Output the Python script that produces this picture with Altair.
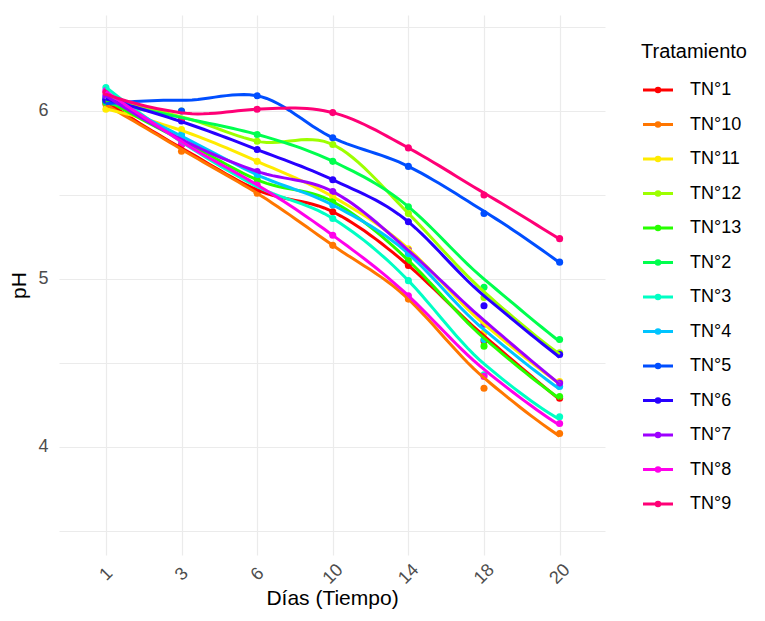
import altair as alt
import numpy as np
import pandas as pd

days = ["1", "3", "6", "10", "14", "18", "20"]
treatments = ["TN°1", "TN°10", "TN°11", "TN°12", "TN°13", "TN°2", "TN°3",
              "TN°4", "TN°5", "TN°6", "TN°7", "TN°8", "TN°9"]
colors = ["#FF0000", "#FF7600", "#FFEB00", "#9DFF00", "#27FF00", "#00FF4E", "#00FFC4",
          "#00C4FF", "#004EFF", "#2700FF", "#9D00FF", "#FF00EB", "#FF0076"]

ph_tn1 = [6.05, 5.80, 5.53, 5.40, 5.08, 4.63, 4.29]
ph_tn10 = [6.04, 5.76, 5.51, 5.20, 4.88, 4.35, 4.08]
ph_tn11 = [6.01, 5.89, 5.70, 5.49, 5.18, 4.68, 4.39]
ph_tn12 = [6.07, 6.00, 5.82, 5.80, 5.39, 4.89, 4.56]
ph_tn13 = [6.06, 5.85, 5.59, 5.46, 5.11, 4.60, 4.30]
ph_tn2 = [6.05, 5.95, 5.86, 5.70, 5.43, 4.95, 4.64]
ph_tn3 = [6.14, 5.82, 5.55, 5.36, 4.99, 4.43, 4.18]
ph_tn4 = [6.08, 5.86, 5.62, 5.44, 5.15, 4.64, 4.36]
ph_tn5 = [6.06, 6.00, 6.09, 5.84, 5.67, 5.39, 5.10]
ph_tn6 = [6.07, 5.94, 5.77, 5.59, 5.34, 4.84, 4.55]
ph_tn7 = [6.09, 5.83, 5.64, 5.52, 5.17, 4.73, 4.38]
ph_tn8 = [6.12, 5.80, 5.56, 5.26, 4.90, 4.42, 4.14]
ph_tn9 = [6.11, 5.95, 6.01, 5.99, 5.78, 5.50, 5.24]

series = [ph_tn1, ph_tn10, ph_tn11, ph_tn12, ph_tn13, ph_tn2, ph_tn3,
          ph_tn4, ph_tn5, ph_tn6, ph_tn7, ph_tn8, ph_tn9]


def local_fit(x, y, x0, q):
    """Local quadratic fit with tricube weights: value and slope at x0."""
    d = np.abs(x - x0)
    h = np.sort(d)[q - 1]
    w = np.clip(1 - (d / h) ** 3, 0, None) ** 3
    X = np.column_stack([np.ones(len(x)), x - x0, (x - x0) ** 2])
    XtW = X.T * w
    beta = np.linalg.lstsq(XtW @ X, XtW @ y, rcond=None)[0]
    return beta[0], beta[1]


def kd_vertices(x, fc):
    """Vertices of R loess' kd tree (1-D): splits at median data values."""
    xs = np.sort(np.asarray(x, float))
    lo, hi = xs[0], xs[-1]
    mu = 0.005 * (hi - lo)
    verts = {lo - mu, hi + mu}

    def split(l, u, blo, bhi):  # 0-based inclusive indices
        if u - l + 1 <= fc:
            return
        m = ((l + 1) + (u + 1)) // 2 - 1
        v = xs[m]
        if v == blo or v == bhi:
            return
        verts.add(v)
        split(l, m, blo, v)
        split(m + 1, u, v, bhi)

    split(0, len(xs) - 1, lo - mu, hi + mu)
    return np.array(sorted(verts))


def loess_curve(x, y, xs, span=0.75, cell=0.2):
    """R-style loess (degree 2) with kd-tree vertices + cubic Hermite interpolation."""
    x = np.asarray(x, float)
    y = np.asarray(y, float)
    n = len(x)
    q = int(np.floor(n * span))
    fc = int(np.floor(n * span * cell))
    verts = kd_vertices(x, max(fc, 1))
    vals = [local_fit(x, y, v, q) for v in verts]
    out = []
    for t in xs:
        k = min(max(np.searchsorted(verts, t) - 1, 0), len(verts) - 2)
        v0, v1 = verts[k], verts[k + 1]
        f0, d0 = vals[k]
        f1, d1 = vals[k + 1]
        hh = v1 - v0
        s = (t - v0) / hh
        h00 = 2 * s ** 3 - 3 * s ** 2 + 1
        h10 = s ** 3 - 2 * s ** 2 + s
        h01 = -2 * s ** 3 + 3 * s ** 2
        h11 = s ** 3 - s ** 2
        out.append(h00 * f0 + h10 * hh * d0 + h01 * f1 + h11 * hh * d1)
    return out


idx = np.arange(1, len(days) + 1)
grid_x = np.linspace(1, len(days), 80)

pt_rows, sm_rows = [], []
for name, vals in zip(treatments, series):
    for i, v in zip(idx, vals):
        pt_rows.append({"Tratamiento": name, "x": int(i), "pH": v})
    for gx, gv in zip(grid_x, loess_curve(idx, vals, grid_x)):
        sm_rows.append({"Tratamiento": name, "x": float(gx), "pH": float(gv)})

points_df = pd.DataFrame(pt_rows)
smooth_df = pd.DataFrame(sm_rows)

label_expr = "[" + ",".join("'%s'" % d for d in days) + "][datum.value - 1]"

FONT = "Liberation Sans"

x_enc = alt.X(
    "x:Q",
    scale=alt.Scale(domain=[0.38, 7.6], nice=False, zero=False),
    axis=alt.Axis(
        values=list(range(1, 8)), labelExpr=label_expr, title="Días (Tiempo)",
        labelAngle=-45, labelAlign="center", labelBaseline="middle",
        labelPadding=19, labelFontSize=18, labelColor="#4D4D4D", labelFont=FONT,
        titleFontSize=21, titleFont=FONT, titleFontWeight="normal", titleColor="#000000",
        titlePadding=0, ticks=False, domain=False, grid=True,
        gridColor="#EBEBEB", gridWidth=1.2,
    ),
)
y_enc = alt.Y(
    "pH:Q",
    scale=alt.Scale(domain=[3.357, 6.571], nice=False, zero=False),
    axis=alt.Axis(
        values=[3.5, 4, 4.5, 5, 5.5, 6, 6.5],
        labelExpr="datum.value % 1 == 0 ? format(datum.value, 'd') : ''",
        title="pH", labelFontSize=18, labelColor="#4D4D4D", labelFont=FONT,
        labelPadding=11, titleFontSize=21, titleFont=FONT, titleFontWeight="normal",
        titleColor="#000000", titlePadding=8, ticks=False, domain=False, grid=True,
        gridColor="#EBEBEB", gridWidth=1.2,
    ),
)

legend = alt.Legend(
    title="Tratamiento", orient="none", legendX=582, legendY=27,
    titleFontSize=20, titleFont=FONT, titleFontWeight="normal", titleColor="#000000",
    titlePadding=11, labelFontSize=18, labelFont=FONT, labelColor="#000000",
    labelOffset=15,
    symbolType="M-1,0H1M0.11,0A0.11,0.11,0,1,1,-0.11,0A0.11,0.11,0,1,1,0.11,0Z",
    symbolSize=900, symbolStrokeWidth=3.2, rowPadding=8.5,
)

color_scale = alt.Scale(domain=treatments, range=colors)

points = alt.Chart(points_df).mark_point(filled=True, size=50, opacity=1).encode(
    x=x_enc, y=y_enc,
    color=alt.Color("Tratamiento:N", scale=color_scale, legend=legend),
)

lines = alt.Chart(smooth_df).mark_line(strokeWidth=3).encode(
    x=x_enc, y=y_enc,
    color=alt.Color("Tratamiento:N", scale=color_scale, legend=legend),
    detail="Tratamiento:N",
)

chart = alt.layer(points, lines).properties(
    width=546, height=540,
    autosize=alt.AutoSizeParams(type="none"),
    padding={"left": 51, "top": 7, "right": 152, "bottom": 58},
).configure_view(strokeWidth=0)

chart.save("out.html", embed_options={"renderer": "svg", "actions": False})
